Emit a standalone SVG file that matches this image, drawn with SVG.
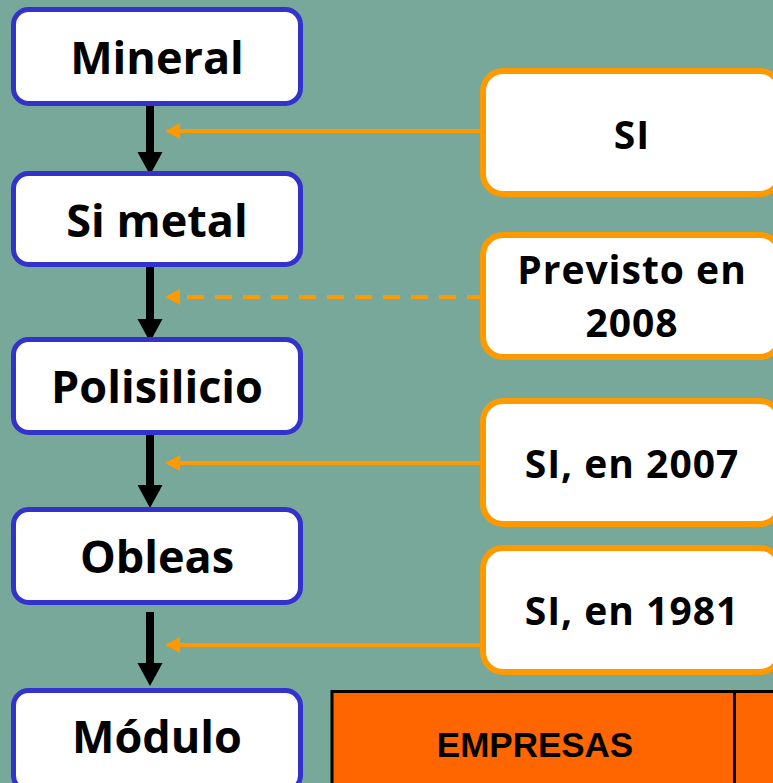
<svg xmlns="http://www.w3.org/2000/svg" width="773" height="783" viewBox="0 0 773 783">
<style>
.step{fill:#ffffff;stroke:#3333cc;stroke-width:5}
.note{fill:#ffffff;stroke:#ff9900;stroke-width:6}
.lt{font-family:"Open Sans","Noto Sans","DejaVu Sans",sans-serif;font-weight:bold;font-size:45px;fill:#000;text-anchor:middle}
.rt{font-family:"Open Sans","Noto Sans","DejaVu Sans",sans-serif;font-weight:bold;font-size:39px;fill:#000;text-anchor:middle;letter-spacing:1px}
.shaft{stroke:#000;stroke-width:8;fill:none}
.head{fill:#000}
.oline{stroke:#ff9900;stroke-width:4;fill:none}
.ohead{fill:#ff9900}
</style>
<rect x="0" y="0" width="773" height="783" fill="#78a89a"/>
<g id="connectors">
<line class="shaft" x1="150" y1="104" x2="150" y2="153"/>
<polygon class="head" points="137.5,152 162.5,152 150,175"/>
<line class="shaft" x1="150" y1="265" x2="150" y2="320"/>
<polygon class="head" points="137.5,319 162.5,319 150,342"/>
<line class="shaft" x1="150" y1="433" x2="150" y2="486"/>
<polygon class="head" points="137.5,485 162.5,485 150,508"/>
<line class="shaft" x1="150" y1="612" x2="150" y2="664"/>
<polygon class="head" points="137.5,663 162.5,663 150,686"/>
<line class="oline" x1="178" y1="131" x2="481" y2="131"/>
<polygon class="ohead" points="165,131 180,123 180,139"/>
<line class="oline" x1="187" y1="297" x2="481" y2="297" stroke-dasharray="17 11"/>
<polygon class="ohead" points="165,297 180,289 180,305"/>
<line class="oline" x1="178" y1="463" x2="481" y2="463"/>
<polygon class="ohead" points="165,463 180,455 180,471"/>
<line class="oline" x1="178" y1="645" x2="481" y2="645"/>
<polygon class="ohead" points="165,645 180,637 180,653"/>
</g>
<g id="mineral"><rect class="step" x="13.5" y="9.5" width="287" height="94" rx="15"/><text class="lt" x="157" y="74">Mineral</text></g>
<g id="si-metal"><rect class="step" x="13.5" y="173.5" width="287" height="91" rx="15"/><text class="lt" x="157" y="237">Si metal</text></g>
<g id="polisilicio"><rect class="step" x="13.5" y="339.5" width="287" height="93" rx="15"/><text class="lt" x="157" y="403">Polisilicio</text></g>
<g id="obleas"><rect class="step" x="13.5" y="509.5" width="287" height="93" rx="15"/><text class="lt" x="157" y="573">Obleas</text></g>
<g id="modulo"><rect class="step" x="13.5" y="690.5" width="287" height="100" rx="15"/><text class="lt" x="157" y="753">Módulo</text></g>
<g id="note-si"><rect class="note" x="483" y="71" width="297" height="123" rx="20"/><text class="rt" x="632" y="149">SI</text></g>
<g id="note-previsto"><rect class="note" x="483" y="235" width="297" height="122" rx="20"/><text class="rt" x="632" y="284">Previsto en</text><text class="rt" x="632" y="337">2008</text></g>
<g id="note-2007"><rect class="note" x="483" y="401" width="297" height="123" rx="20"/><text class="rt" x="632" y="478">SI, en 2007</text></g>
<g id="note-1981"><rect class="note" x="483" y="548" width="297" height="124" rx="20"/><text class="rt" x="632" y="625">SI, en 1981</text></g>
<g id="table">
<rect x="332" y="691.5" width="460" height="100" fill="#ff6600" stroke="#000" stroke-width="3"/>
<line x1="734.5" y1="691.5" x2="734.5" y2="783" stroke="#000" stroke-width="3"/>
<text x="535" y="757" font-family="'Liberation Sans',Arial,sans-serif" font-weight="bold" font-size="35" text-anchor="middle" fill="#000">EMPRESAS</text>
</g>
</svg>
